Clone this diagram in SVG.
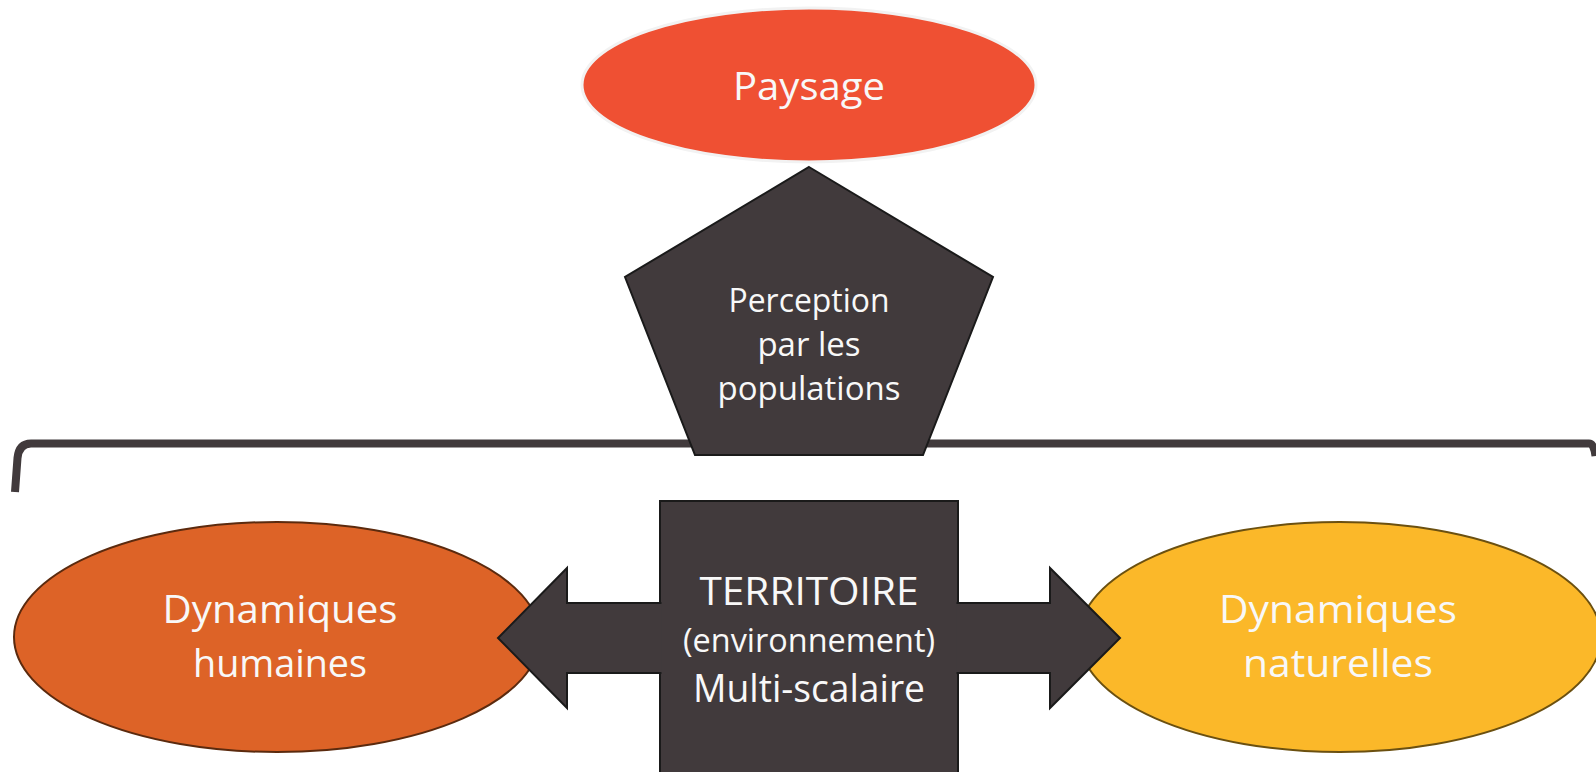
<svg xmlns="http://www.w3.org/2000/svg" width="1596" height="772" viewBox="0 0 1596 772">
<style>
.t{font-family:"Open Sans","Lato","Liberation Sans",sans-serif;fill:#F8F8F8;text-anchor:middle}
.dark{fill:#413A3C;stroke:#1A1A1A;stroke-width:2}
</style>
<rect width="1596" height="772" fill="#FFFFFF"/>
<path id="bracket" d="M 15 492 L 17.5 458 Q 19 443.5 31 443.5 L 1589 443.5 Q 1594 443.5 1595.5 456" fill="none" stroke="#413A3C" stroke-width="8"/>
<g id="nodes">
<g id="paysage">
<ellipse cx="809" cy="85" rx="227" ry="77" fill="#EF5033" stroke="#F2F2F2" stroke-width="3"/>
<text class="t" x="809" y="100" font-size="39" textLength="152" lengthAdjust="spacingAndGlyphs">Paysage</text>
</g>
<g id="perception">
<polygon class="dark" points="809,167 993,277 923,455 695,455 625,277"/>
<text class="t" font-size="33"><tspan x="809" y="312" textLength="161" lengthAdjust="spacingAndGlyphs">Perception</tspan><tspan x="809" y="356">par les</tspan><tspan x="809" y="400">populations</tspan></text>
</g>
<g id="humaines">
<ellipse cx="277" cy="637" rx="263" ry="115" fill="#DD6327" stroke="#5B2A0E" stroke-width="2"/>
<text class="t" font-size="39"><tspan x="280" y="623" textLength="235" lengthAdjust="spacingAndGlyphs">Dynamiques</tspan><tspan x="280" y="677" textLength="174" lengthAdjust="spacingAndGlyphs">humaines</tspan></text>
</g>
<g id="naturelles">
<ellipse cx="1340" cy="637" rx="261" ry="115" fill="#FBB829" stroke="#6B5010" stroke-width="2"/>
<text class="t" font-size="39"><tspan x="1338" y="623" textLength="238" lengthAdjust="spacingAndGlyphs">Dynamiques</tspan><tspan x="1338" y="677" textLength="190" lengthAdjust="spacingAndGlyphs">naturelles</tspan></text>
</g>
<g id="territoire">
<rect class="dark" x="660" y="501" width="298" height="290"/>
</g>
</g>
<g id="connectors">
<path class="dark" d="M 661.5 603 L 567 603 L 567 568 L 498 638 L 567 708 L 567 673 L 661.5 673"/>
<path class="dark" d="M 956.5 603 L 1050 603 L 1050 568 L 1120 638 L 1050 708 L 1050 673 L 956.5 673"/>
</g>
<g id="territoire-label">
<text class="t" font-size="39"><tspan x="809" y="605" textLength="219" lengthAdjust="spacingAndGlyphs">TERRITOIRE</tspan><tspan x="809" y="652" font-size="32" textLength="252" lengthAdjust="spacingAndGlyphs">(environnement)</tspan><tspan x="809" y="702" textLength="232" lengthAdjust="spacingAndGlyphs">Multi-scalaire</tspan></text>
</g>
</svg>
